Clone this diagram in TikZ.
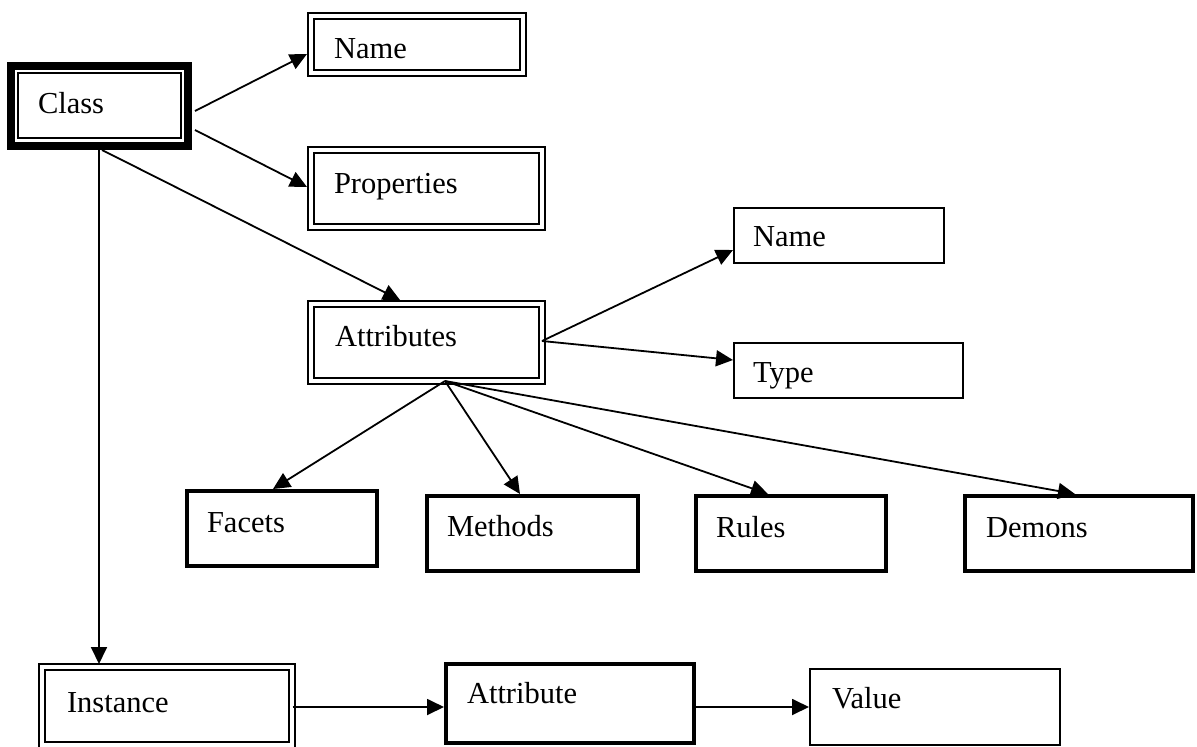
\documentclass[tikz,border=0pt]{standalone}
\usepackage{fontspec}
\setmainfont{Liberation Serif}
\usetikzlibrary{arrows.meta,calc}
\tikzset{
  box/.style={draw, outer sep=0pt, font=\fontsize{30.5}{36}\selectfont},
  dbl/.style={line width=2pt, double, double distance=4pt},
  thk/.style={line width=4pt},
  thn/.style={line width=2pt},
  classbox/.style={line width=8pt},
  conn/.style={line width=1.8pt, -{Triangle[length=17pt,width=16pt]}},
}
\newcommand\bx[9][]{%
  \pgfmathsetmacro\bxdx{#7-#3}%
  \pgfmathsetmacro\bxtw{#5-#3-2*(#7-#3)}%
  \pgfmathsetmacro\bxth{#8-#4}%
  \pgfmathsetmacro\bxtd{#6-#8}%
  \node[box,#1,anchor=north west,inner xsep=\bxdx pt,inner ysep=0pt,
        text width=\bxtw pt,text height=\bxth pt,text depth=\bxtd pt,align=left]
        (#2) at (#3,#4) {#9};}
\begin{document}
\begin{tikzpicture}[x=1pt,y=-1pt]
\fill[white] (0,0) rectangle (1197,747);
\useasboundingbox (0,0) rectangle (1197,747);
% boxes
\bx[classbox]{class}{11}{66}{188}{146}{38}{113}{Class}
\draw[thn] ($(class.north west)+(7,7)$) rectangle ($(class.south east)+(-7,-8)$);
\bx[dbl]{ntop}{311}{15.5}{522.5}{72.5}{334}{58}{Name}
\bx[dbl]{prop}{311}{150}{542}{227}{334}{193}{Properties}
\bx[dbl]{attr}{311}{304}{542}{380.5}{335}{346}{Attributes}
\bx[thn]{nright}{734}{208}{944}{263}{753}{246}{Name}
\bx[thn]{type}{734}{343}{963}{398}{753}{382}{Type}
\bx[thk]{facets}{187}{491}{377}{566}{207}{532}{Facets}
\bx[thk]{methods}{427}{496}{638}{571}{447}{536}{Methods}
\bx[thk]{rules}{696}{496}{886}{571}{716}{537}{Rules}
\bx[thk]{demons}{965}{496}{1193}{571}{986}{537}{Demons}
\bx[dbl]{inst}{41.5}{667}{292}{745}{67}{712}{Instance}
\bx[thk]{attrb}{446}{664}{694}{743}{467}{703}{Attribute}
\bx[thn]{value}{810}{669}{1060}{745}{832}{708}{Value}
% connectors
\draw[conn] ($(class.north west)+(184,45)$) -- ($(ntop.north west)+(-4,38.5)$);
\draw[conn] ($(class.north west)+(184,64)$) -- ($(prop.north west)+(-4,37)$);
\draw[conn] ($(class.north west)+(91,84)$) -- ($(attr.north west)+(89,-4)$);
\draw[conn] ($(class.north west)+(88,84)$) -- ($(inst.north west)+(57.5,-3)$);
\draw[conn] ($(attr.north west)+(231,37)$) -- ($(nright.north west)+(-1,42)$);
\draw[conn] ($(attr.north west)+(231,37)$) -- ($(type.north west)+(-1,17)$);
\draw[conn] ($(attr.north west)+(134,77)$) -- ($(facets.north west)+(86,-2)$);
\draw[conn] ($(attr.north west)+(134,77)$) -- ($(methods.north west)+(93,-2)$);
\draw[conn] ($(attr.north west)+(134,77)$) -- ($(rules.north west)+(72,-2)$);
\draw[conn] ($(attr.north west)+(134,77)$) -- ($(demons.north west)+(110,-2)$);
\draw[conn] ($(inst.north west)+(251,40)$) -- ($(attrb.north west)+(-2,43)$);
\draw[conn] ($(attrb.north west)+(248,43)$) -- ($(value.north west)+(-1,38)$);
\end{tikzpicture}
\end{document}
